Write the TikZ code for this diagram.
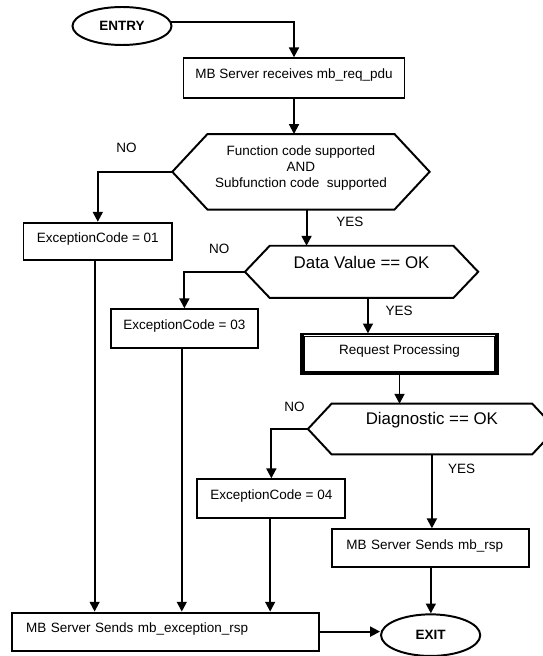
\documentclass[tikz,border=0pt]{standalone}
\usepackage{fontspec}
\setmainfont{Liberation Sans}
\usetikzlibrary{shapes, arrows.meta, positioning, calc}

\begin{document}
\begin{tikzpicture}[
  line/.style={line width=1.4pt},
  arr/.style={line, -{Triangle[length=7pt, width=7pt]}},
  box/.style={draw, line, font=\fontsize{9.6}{11.5}\selectfont, inner sep=0pt, text height=7pt, text depth=6pt},
  leftbox/.style={box, align=left, inner xsep=0.35cm},
  term/.style={draw, line, ellipse, inner sep=0pt, font=\fontsize{9.6}{11.5}\selectfont\bfseries},
  hexa/.style={inner sep=0pt},
  tag/.style={font=\fontsize{9.6}{11.5}\selectfont}
]
  \useasboundingbox (0,0) rectangle (13.575,-16.4);

  % Start and first step
  \node[term, minimum width=2.475cm, minimum height=0.95cm] (entry) at (3.05,-0.65) {ENTRY};
  \node[box, minimum width=5.525cm, minimum height=0.985cm] (recv) at (7.35,-1.95) {MB Server receives mb\_req\_pdu};

  % Decisions (hexagons drawn below)
  \node[hexa, minimum width=6.42cm, minimum height=1.875cm] (fc) at (7.524,-4.295) {};
  \node[tag, align=center] (fctext) at ([yshift=0.095cm]fc.center) {Function code supported\\AND\\Subfunction code\ \ supported};

  \node[hexa, minimum width=5.818cm, minimum height=1.29cm] (dv) at (9.039,-6.796) {};
  \node[font=\fontsize{12}{14}\selectfont] (dvtext) at ([yshift=0.23cm]dv.center) {Data Value == OK};

  \node[hexa, minimum width=6.185cm, minimum height=1.25cm] (dg) at (10.7975,-10.725) {};
  \node[font=\fontsize{12}{14}\selectfont] (dgtext) at ([yshift=0.225cm]dg.center) {Diagnostic == OK};

  \foreach \h/\s in {fc/0.88, dv/0.62, dg/0.59}
    \draw[line] (\h.west) -- ([xshift=\s cm]\h.north west) -- ([xshift=-\s cm]\h.north east) -- (\h.east)
      -- ([xshift=-\s cm]\h.south east) -- ([xshift=\s cm]\h.south west) -- cycle;

  % Exception codes
  \node[box, minimum width=3.715cm, minimum height=0.93cm] (ex01) at (2.445,-6.034) {ExceptionCode = 01};
  \node[box, minimum width=3.68cm, minimum height=0.975cm] (ex03) at (4.61,-8.22) {ExceptionCode = 03};
  \node[box, minimum width=3.70cm, minimum height=0.96cm] (ex04) at (6.784,-12.4625) {ExceptionCode = 04};

  % Processing
  \node[box, minimum width=4.91cm, minimum height=0.99cm] (proc) at (9.9875,-8.854) {Request Processing};
  \fill (proc.north west) rectangle ([xshift=0.1cm]proc.south west);
  \fill (proc.north east) rectangle ([xshift=-0.1cm]proc.south east);
  \draw[line width=0.9pt] ([shift={(0.1,-0.075)}]proc.north west) rectangle ([shift={(-0.1,0.075)}]proc.south east);

  % Responses
  \node[leftbox, text width=4.22cm, minimum height=0.95cm] (rsp) at (10.771,-13.7075) {MB Server Sends mb\_rsp};
  \node[leftbox, text width=6.96cm, minimum height=0.95cm] (exc) at (4.134,-15.79) {MB Server Sends mb\_exception\_rsp};
  \node[term, minimum width=2.48cm, minimum height=1.04cm] (exit) at (10.766,-15.879) {EXIT};

  % Connectors
  \draw[arr] (entry.5) -| (recv.north);
  \draw[arr] (recv.south) -- (recv.south |- fc.north);
  \draw[arr] (fc.west) -| (ex01.north);
  \draw[arr] ([xshift=0.14cm]fc.south) -- ([xshift=0.14cm]fc.south |- dv.north);
  \draw[arr] (dv.west) -| (ex03.north);
  \draw[arr] ([xshift=0.16cm]dv.south) -- ([xshift=0.16cm]dv.south |- proc.north);
  \draw[arr] (proc.south) -- (proc.south |- dg.north);
  \draw[arr] (dg.west) -| (ex04.north);
  \draw[arr] (dg.south) -- (dg.south |- rsp.north);
  \draw[arr] (rsp.south) -- (rsp.south |- exit.north);
  \draw[arr] ([xshift=-0.08cm]ex01.south) -- ([xshift=-0.08cm]ex01.south |- exc.north);
  \draw[arr] ([xshift=-0.065cm]ex03.south) -- ([xshift=-0.065cm]ex03.south |- exc.north);
  \draw[arr] ([xshift=-0.03cm]ex04.south) -- ([xshift=-0.03cm]ex04.south |- exc.north);
  \draw[arr] (exc.east) -- (exc.east -| exit.west);

  % Branch labels
  \node[tag] (no1) at (3.16,-3.69) {NO};
  \node[tag] (yes1) at (8.745,-5.54) {YES};
  \node[tag] (no2) at (5.48,-6.21) {NO};
  \node[tag] (yes2) at (9.98,-7.775) {YES};
  \node[tag] (no3) at (7.36,-10.17) {NO};
  \node[tag] (yes3) at (11.54,-11.725) {YES};
\end{tikzpicture}
\end{document}
